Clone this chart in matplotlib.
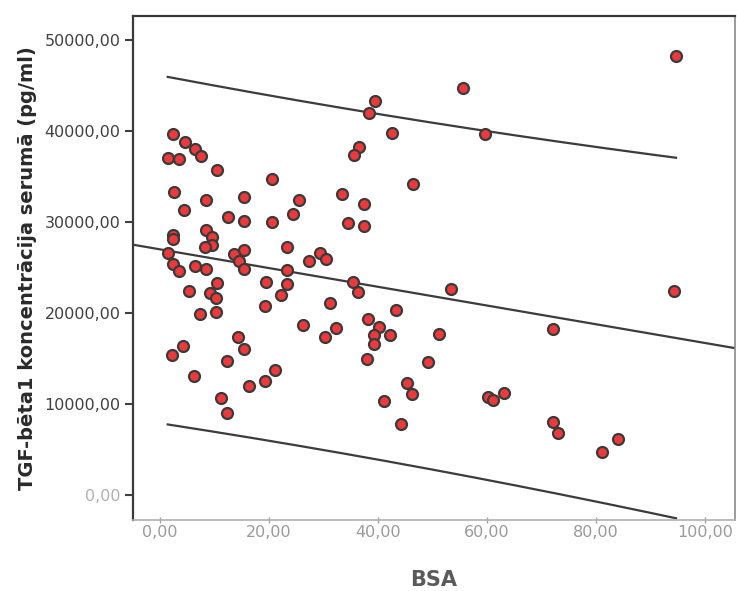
import numpy as np
import matplotlib
matplotlib.use('Agg')
import matplotlib.pyplot as plt

# BSA (%) and serum TGF-beta1 (pg/ml) per patient
bsa = [2.33, 4.50, 6.51, 7.52, 1.52, 3.52, 10.46, 20.46, 2.48, 8.44,
       15.47, 4.46, 12.42, 15.41, 20.46, 8.50, 2.42, 2.42, 9.49, 9.45,
       8.31, 15.38, 1.41, 13.49, 14.50, 2.44, 3.45, 6.39, 8.39, 15.32,
       23.30, 10.42, 5.34, 9.21, 10.33, 19.36, 22.29, 23.30, 19.27, 7.34,
       10.31, 14.26, 15.32, 4.31, 2.26, 12.29, 21.19, 6.24, 19.27, 16.24,
       11.23, 12.20, 39.50, 38.35, 42.51, 36.50, 35.60, 46.46, 25.54, 24.40,
       33.34, 37.49, 34.44, 37.47, 23.39, 29.36, 30.40, 27.39, 35.36, 36.28,
       31.25, 43.23, 26.20, 32.29, 30.28, 38.13, 40.24, 39.30, 42.20, 39.27,
       38.07, 45.23, 46.24, 41.14, 44.17, 55.54, 59.54, 53.30, 51.25, 49.23,
       72.11, 60.13, 61.16, 63.12, 72.06, 72.99, 84.09, 81.16, 94.68, 94.31]
tgf = [39670, 38736, 38055, 37253, 37067, 36923, 35692, 34758, 33264, 32385,
       32780, 31352, 30517, 30110, 29978, 29143, 28539, 28099, 28319, 27440,
       27253, 26978, 26649, 26483, 25714, 25385, 24637, 25143, 24857, 24868,
       24725, 23330, 22418, 22165, 21681, 23385, 22000, 23209, 20769, 19857,
       20132, 17418, 16099, 16341, 15352, 14725, 13791, 13044, 12505, 12033,
       10637, 8989, 43330, 41945, 39813, 38275, 37341, 34143, 32396, 30879,
       33055, 31956, 29945, 29527, 27253, 26593, 25934, 25769, 23440, 22330,
       21066, 20330, 18648, 18319, 17341, 19308, 18516, 17582, 17615, 16626,
       14912, 12308, 11077, 10330, 7857, 44670, 39670, 22670, 17692, 14594,
       18242, 10802, 10440, 11242, 8022, 6791, 6121, 4758, 48275, 22451]

x_ticks = [0, 20, 40, 60, 80, 100]
y_ticks = [0, 10000, 20000, 30000, 40000, 50000]


def comma_fmt(v):
    return f'{v:.2f}'.replace('.', ',')


x = np.array(bsa)
y = np.array(tgf)
n = len(x)

# linear fit with 95% prediction interval
slope, intercept = np.polyfit(x, y, 1)
resid = y - (intercept + slope * x)
s = np.sqrt(np.sum(resid ** 2) / (n - 2))
sxx = np.sum((x - x.mean()) ** 2)
t_crit = 1.984

fig = plt.figure(figsize=(7.37, 5.91), dpi=100)
ax = fig.add_axes([0.1805, 0.120, 0.8168, 0.853])
ax.set_xlim(-4.95, 105.5)
ax.set_ylim(-2747, 52637)

xl = np.array(ax.get_xlim())
ax.plot(xl, intercept + slope * xl, color='#3c3c3c', lw=1.6, zorder=2)

xs = np.linspace(x.min(), x.max(), 200)
hw = t_crit * s * np.sqrt(1 + 1 / n + (xs - x.mean()) ** 2 / sxx)
fit = intercept + slope * xs
ax.plot(xs, fit + hw, color='#3c3c3c', lw=1.6, zorder=2)
ax.plot(xs, fit - hw, color='#3c3c3c', lw=1.6, zorder=2)

ax.scatter(x, y, s=62, c='#ec3a3c', edgecolors='#3a3a3a', linewidths=1.6, zorder=3)

ax.set_xticks(x_ticks)
ax.set_yticks(y_ticks)
ax.set_xticklabels([comma_fmt(v) for v in x_ticks], color='#9a9a9a', fontsize=11.5)
ax.set_yticklabels([comma_fmt(v) for v in y_ticks], color='#404040', fontsize=11.5)
ax.get_yticklabels()[0].set_color('#b0b0b0')
ax.tick_params(axis='y', length=6, width=1.5, color='#404040', pad=3)
ax.tick_params(axis='x', length=5, width=1, color='#a0a0a0', pad=1, direction='inout')

for side in ['left', 'top']:
    ax.spines[side].set_color('#3a3a3a')
    ax.spines[side].set_linewidth(1.6)
ax.spines['right'].set_color('#8a8a8a')
ax.spines['right'].set_linewidth(1.2)
ax.spines['bottom'].set_color('#b0b0b0')
ax.spines['bottom'].set_linewidth(1.2)

ax.set_ylabel('TGF-bēta1 koncentrācija serumā (pg/ml)', fontsize=14,
              fontweight='bold', color='#2a2a2a', labelpad=5)
ax.set_xlabel('BSA', fontsize=15, fontweight='bold', color='#5a5a5a', labelpad=22)

fig.savefig('out.png', dpi=100, facecolor='white')
